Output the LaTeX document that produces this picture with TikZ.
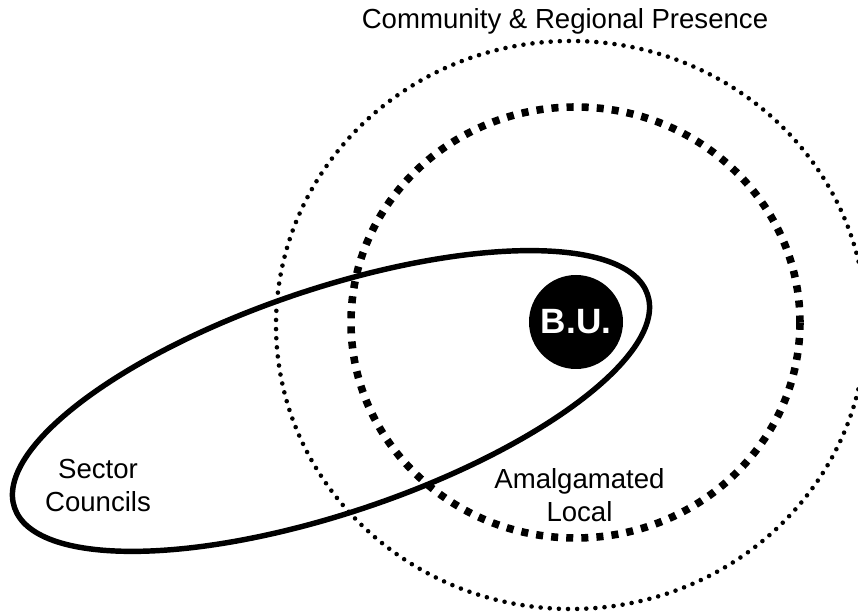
\documentclass[tikz,border=0pt]{standalone}
\usepackage{fontspec}
\setmainfont{Liberation Sans}
\usepackage{tikz}
\usetikzlibrary{shapes.geometric}
\tikzstyle{presence_ring}=[shape=ellipse,draw=black,line width=2.6pt,line cap=round,dash pattern=on 0pt off 5.2pt]
\tikzstyle{local_ring}=[shape=ellipse,draw=black,line width=4.3pt,dash pattern=on 4pt off 4.6pt]
\tikzstyle{sector_ring}=[shape=ellipse,draw=black,line width=3.1pt]
\tikzstyle{bu_disc}=[shape=circle,fill=black,text=white,inner sep=0pt,minimum size=1.88cm,font=\fontsize{20}{24}\selectfont\bfseries]
\tikzstyle{label_text}=[inner sep=0pt,align=center,font=\fontsize{15.7}{18.8}\selectfont]

\begin{document}
\begin{tikzpicture}
\useasboundingbox (0,0) rectangle (17.16,12.3);

% rings
\node[presence_ring,minimum width=11.80cm,minimum height=11.36cm] (presence) at (11.42,5.80) {};
\node[local_ring,minimum width=8.98cm,minimum height=8.62cm] (local) at (11.51,5.85) {};
\node[sector_ring,minimum width=13.36cm,minimum height=4.48cm,rotate=18.6] (sector) at (6.62,4.28) {};

% bargaining unit
\node[bu_disc] (bu) at (11.52,5.86) {B.U.};

% labels
\node[label_text,anchor=base] (presence_lbl) at (11.30,11.72) {Community \& Regional Presence};
\node[label_text,anchor=north] (sector_lbl) at (1.96,3.12) {Sector\\Councils};
\node[label_text,anchor=north] (local_lbl) at (11.59,2.94) {Amalgamated\\Local};

\end{tikzpicture}
\end{document}
